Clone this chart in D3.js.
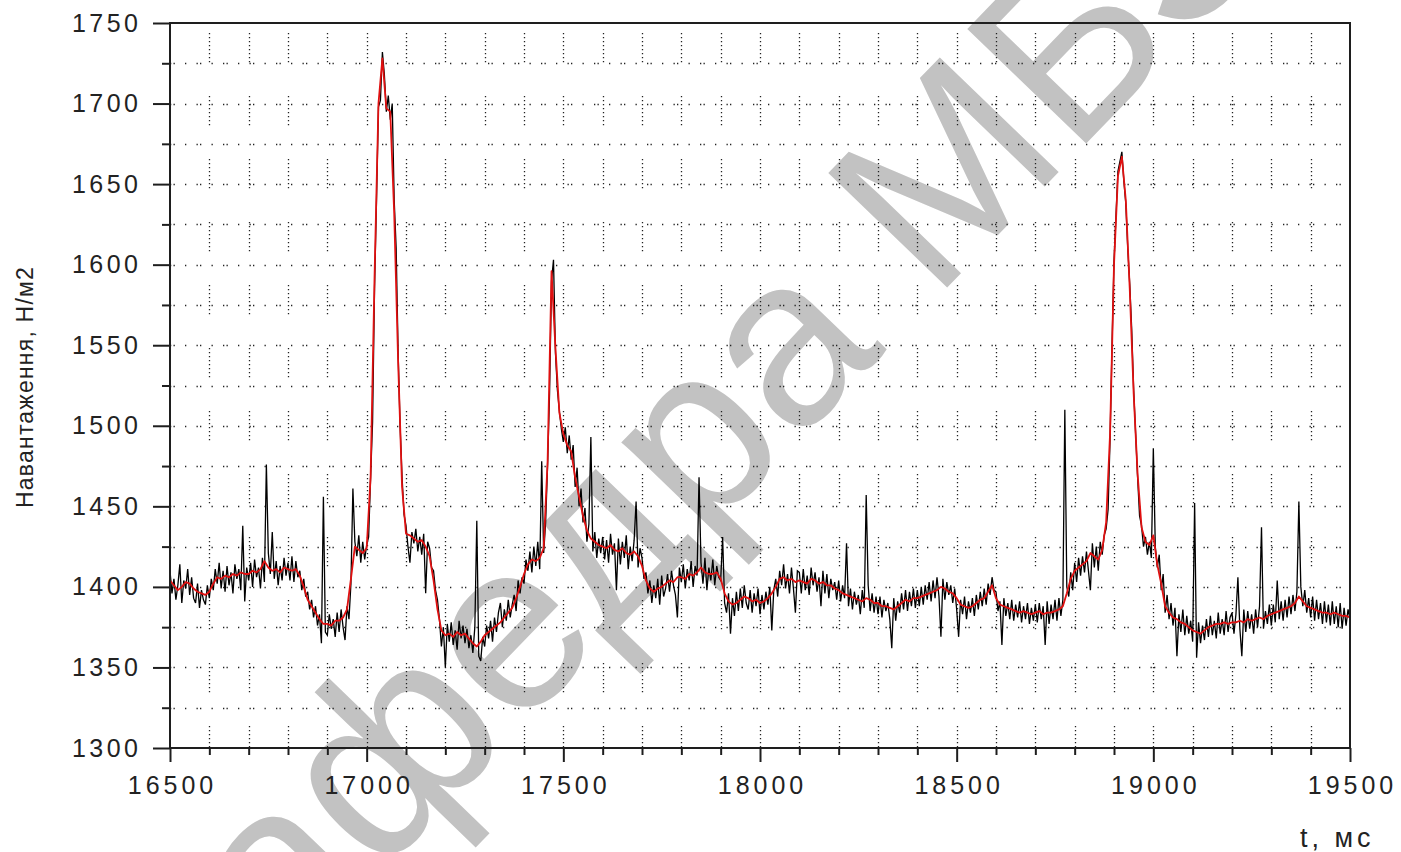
<!DOCTYPE html>
<html>
<head>
<meta charset="utf-8">
<script src="https://cdn.jsdelivr.net/npm/d3@7"></script>
<style>
  html, body { margin: 0; padding: 0; background: #fff; }
  svg { display: block; }
  text { font-family: "Liberation Sans", Arial, sans-serif; }
</style>
</head>
<body>
<svg id="chart" width="1401" height="852"></svg>
<script>
// Load record: raw sensor trace (5 ms sampling) and its smoothed curve (10 ms sampling)
const tStart = 16500;
const rawStep = 5;
const smoothStep = 10;

const rawLoad = [
  1410,1396,1405,1392,1401,1414,1390,1404,1399,1411,1395,1406,1393,1390,1402,1387,1398,1392,1389,1401,
  1393,1405,1398,1411,1402,1415,1399,1410,1397,1413,1401,1409,1396,1414,1405,1411,1398,1438,1391,1412,
  1404,1415,1400,1417,1406,1412,1399,1418,1403,1476,1421,1408,1434,1405,1416,1401,1413,1404,1418,1407,
  1415,1404,1419,1403,1416,1406,1410,1398,1405,1394,1397,1386,1392,1381,1388,1376,1383,1365,1456,1372,
  1370,1383,1374,1380,1369,1384,1372,1386,1375,1367,1388,1380,1402,1461,1428,1419,1432,1415,1428,1417,
  1426,1431,1468,1502,1585,1640,1698,1702,1732,1718,1695,1705,1690,1700,1640,1610,1545,1500,1468,1445,
  1438,1425,1415,1434,1427,1436,1422,1431,1420,1433,1396,1428,1424,1412,1410,1398,1392,1380,1363,1375,
  1350,1377,1366,1378,1364,1373,1361,1379,1368,1376,1365,1374,1362,1370,1359,1375,1441,1357,1354,1369,
  1363,1376,1368,1379,1366,1381,1372,1384,1390,1375,1386,1379,1392,1381,1389,1395,1385,1404,1396,1406,
  1402,1417,1410,1422,1409,1425,1413,1428,1411,1478,1421,1440,1476,1520,1590,1603,1545,1522,1509,1498,
  1490,1499,1483,1494,1479,1488,1462,1474,1450,1461,1440,1449,1428,1439,1493,1422,1434,1418,1430,1421,
  1431,1417,1429,1415,1433,1420,1427,1398,1430,1414,1428,1418,1432,1411,1425,1416,1429,1453,1412,1424,
  1418,1405,1409,1396,1404,1390,1401,1393,1405,1389,1407,1394,1399,1408,1397,1410,1401,1395,1381,1412,
  1403,1414,1399,1411,1404,1416,1400,1413,1407,1468,1415,1402,1418,1398,1412,1404,1417,1401,1413,1406,
  1404,1431,1390,1384,1396,1371,1393,1382,1397,1385,1399,1387,1401,1390,1386,1398,1384,1396,1388,1399,
  1383,1395,1386,1397,1389,1400,1373,1398,1405,1394,1410,1401,1414,1399,1408,1396,1412,1399,1384,1410,
  1409,1396,1411,1398,1407,1395,1412,1401,1409,1397,1406,1388,1410,1396,1408,1393,1405,1398,1403,1392,
  1404,1391,1401,1393,1427,1388,1399,1386,1397,1389,1395,1383,1398,1387,1457,1401,1385,1396,1384,1394,
  1383,1394,1381,1392,1385,1390,1380,1362,1393,1379,1391,1384,1396,1386,1398,1385,1397,1388,1399,1387,
  1398,1388,1400,1389,1401,1392,1403,1391,1404,1393,1406,1394,1369,1405,1392,1403,1395,1401,1390,1399,
  1386,1369,1392,1383,1394,1380,1391,1384,1393,1382,1395,1386,1397,1388,1399,1389,1402,1395,1406,1398,
  1397,1385,1391,1364,1393,1382,1390,1380,1392,1379,1389,1381,1391,1378,1388,1380,1390,1377,1387,1379,
  1389,1378,1390,1380,1388,1364,1391,1377,1389,1380,1392,1379,1393,1382,1392,1510,1400,1394,1409,1398,
  1415,1403,1418,1407,1419,1409,1422,1410,1398,1427,1412,1425,1410,1428,1420,1432,1436,1448,1492,1550,
  1602,1630,1658,1664,1670,1652,1638,1610,1588,1560,1522,1495,1468,1444,1438,1425,1431,1420,1428,1418,
  1486,1425,1412,1420,1398,1408,1384,1395,1380,1390,1376,1387,1357,1383,1372,1386,1370,1382,1371,1379,
  1366,1452,1356,1378,1365,1376,1367,1380,1369,1382,1370,1379,1368,1384,1371,1380,1370,1385,1372,1381,
  1384,1371,1383,1406,1374,1357,1386,1372,1385,1374,1383,1371,1386,1375,1388,1437,1374,1385,1377,1389,
  1376,1389,1378,1404,1380,1391,1379,1392,1381,1394,1383,1395,1385,1397,1453,1400,1388,1398,1384,1393,
  1381,1394,1379,1392,1380,1390,1377,1391,1378,1389,1376,1391,1377,1388,1375,1390,1374,1387,1376,1386,
  1380
];

const smoothLoad = [
  1404,1401,1398,1400,1403,1402,1399,1397,1396,1395,
  1397,1402,1406,1405,1407,1406,1408,1407,1409,1408,
  1408,1410,1409,1411,1416,1412,1410,1411,1409,1412,
  1411,1410,1411,1407,1400,1392,1388,1384,1380,1377,
  1377,1376,1379,1379,1381,1386,1405,1425,1423,1421,
  1424,1468,1592,1700,1728,1697,1695,1632,1540,1462,
  1433,1432,1430,1428,1429,1425,1419,1404,1386,1373,
  1370,1371,1369,1372,1370,1371,1368,1365,1363,1366,
  1370,1372,1374,1376,1378,1381,1384,1387,1393,1400,
  1408,1414,1417,1416,1418,1424,1478,1596,1548,1508,
  1495,1488,1484,1468,1456,1444,1435,1430,1428,1426,
  1425,1424,1426,1423,1422,1424,1421,1420,1422,1419,
  1413,1404,1399,1397,1399,1400,1402,1404,1403,1406,
  1406,1405,1408,1407,1409,1412,1409,1408,1408,1409,
  1405,1396,1391,1389,1390,1392,1394,1393,1391,1392,
  1390,1391,1393,1396,1400,1405,1406,1404,1405,1403,
  1404,1403,1402,1405,1404,1402,1403,1401,1401,1399,
  1398,1396,1395,1394,1393,1392,1391,1393,1392,1390,
  1390,1388,1388,1387,1386,1388,1390,1392,1391,1393,
  1393,1394,1395,1396,1397,1398,1400,1399,1397,1396,
  1393,1389,1388,1387,1388,1390,1392,1393,1397,1401,
  1393,1389,1388,1387,1386,1385,1384,1385,1384,1383,
  1384,1385,1383,1384,1384,1385,1386,1388,1396,1405,
  1410,1412,1414,1416,1421,1419,1417,1423,1440,1495,
  1600,1655,1667,1640,1585,1520,1470,1437,1428,1426,
  1432,1414,1402,1388,1384,1381,1380,1378,1377,1375,
  1373,1372,1371,1373,1375,1376,1377,1377,1378,1377,
  1378,1378,1379,1378,1380,1379,1380,1381,1380,1382,
  1383,1384,1385,1386,1387,1388,1390,1394,1391,1388,
  1387,1386,1385,1384,1384,1383,1384,1383,1382,1382,
  1381
];

const xTickLabels = [16500, 17000, 17500, 18000, 18500, 19000, 19500];
const yTickLabels = [1300, 1350, 1400, 1450, 1500, 1550, 1600, 1650, 1700, 1750];
const yLabelText = "Навантаження, Н/м2";
const xLabelText = "t, мс";
const stampText = "кафедра МБЗ";

const W = 1401, H = 852;
const plot = { left: 170, right: 1350, top: 23, bottom: 748 };

const x = d3.scaleLinear().domain([16500, 19500]).range([plot.left, plot.right]);
const y = d3.scaleLinear().domain([1300, 1750]).range([plot.bottom, plot.top]);

const svg = d3.select("#chart");
svg.append("rect").attr("width", W).attr("height", H).attr("fill", "#fff");

// Department stamp lying under the whole figure
svg.append("text")
  .attr("transform", "translate(209,1052) rotate(-46)")
  .attr("font-size", 240)
  .attr("fill", "#c2c2c2")
  .text(stampText);

// Dotted grid
const grid = svg.append("g").attr("class", "grid");
const hGrid = d3.range(1325, 1750, 25);
const vGrid = d3.range(16600, 19500, 100);

grid.selectAll("line.h").data(hGrid).join("line")
  .attr("class", "h")
  .attr("x1", plot.left).attr("x2", plot.right)
  .attr("y1", d => Math.round(y(d)) + 0.5).attr("y2", d => Math.round(y(d)) + 0.5)
  .attr("stroke", "#222").attr("stroke-width", 1.3)
  .attr("stroke-dasharray", "1.3,2.2,1.3,10.2,1.3,10.2");

grid.selectAll("line.v").data(vGrid).join("line")
  .attr("class", "v")
  .attr("x1", d => Math.round(x(d)) + 0.5).attr("x2", d => Math.round(x(d)) + 0.5)
  .attr("y1", plot.top).attr("y2", plot.bottom)
  .attr("stroke", "#222").attr("stroke-width", 1.3)
  .attr("stroke-dasharray", "1.3,2.7,1.3,2.7,1.3,2.7,1.3,2.7,1.3,2.7,1.3,2.7,1.3,2.7,1.3,33.7")
  .attr("stroke-dashoffset", 53);

// Signal traces
svg.append("clipPath").attr("id", "plotClip")
  .append("rect")
  .attr("x", plot.left).attr("y", plot.top)
  .attr("width", plot.right - plot.left).attr("height", plot.bottom - plot.top);

const rawLine = d3.line()
  .x((d, i) => x(tStart + i * rawStep))
  .y(d => y(d));
const smoothLine = d3.line()
  .x((d, i) => x(tStart + i * smoothStep))
  .y(d => y(d));

const traces = svg.append("g").attr("clip-path", "url(#plotClip)");
traces.append("path").datum(rawLoad)
  .attr("d", rawLine)
  .attr("fill", "none").attr("stroke", "#000").attr("stroke-width", 1.3);
traces.append("path").datum(smoothLoad)
  .attr("d", smoothLine)
  .attr("fill", "none").attr("stroke", "#e01010").attr("stroke-width", 1.8)
  .attr("stroke-linejoin", "round");

// Axes
const axisColor = "#1e1e1e";
const fmt = d3.format("d");

const yMajor = d3.axisLeft(y).tickValues(yTickLabels).tickSize(17).tickPadding(11.5)
  .tickFormat(fmt).tickSizeOuter(0);
const yMinor = d3.axisLeft(y).tickValues(d3.range(1325, 1750, 50)).tickSize(8)
  .tickFormat("").tickSizeOuter(0);
const xMajor = d3.axisBottom(x).tickValues(xTickLabels).tickSize(14).tickPadding(14)
  .tickFormat(fmt).tickSizeOuter(0);
const xMinor = d3.axisBottom(x).tickValues(d3.range(16600, 19500, 100).filter(v => v % 500 !== 0))
  .tickSize(7).tickFormat("").tickSizeOuter(0);

function styleAxis(g) {
  g.select(".domain").remove();
  g.selectAll(".tick line").attr("stroke", axisColor).attr("stroke-width", 2);
  g.selectAll(".tick text")
    .attr("fill", "#222")
    .attr("font-size", 25)
    .attr("font-family", "\"Liberation Sans\", Arial, sans-serif");
}

svg.append("g").attr("transform", `translate(${plot.left},0)`).call(yMinor).call(styleAxis);
svg.append("g").attr("transform", `translate(${plot.left},0)`).call(yMajor).call(styleAxis)
  .selectAll(".tick text").attr("letter-spacing", 3.5);
svg.append("g").attr("transform", `translate(0,${plot.bottom})`).call(xMinor).call(styleAxis);
svg.append("g").attr("transform", `translate(0,${plot.bottom})`).call(xMajor).call(styleAxis)
  .selectAll(".tick text").attr("letter-spacing", 4).attr("dx", 2);

// Frame
svg.append("rect")
  .attr("x", plot.left).attr("y", plot.top)
  .attr("width", plot.right - plot.left).attr("height", plot.bottom - plot.top)
  .attr("fill", "none").attr("stroke", axisColor).attr("stroke-width", 2);

// Axis titles
svg.append("text")
  .attr("transform", "translate(33,387) rotate(-90)")
  .attr("text-anchor", "middle")
  .attr("font-size", 23)
  .attr("letter-spacing", 1.2)
  .attr("fill", "#222")
  .text(yLabelText);

svg.append("text")
  .attr("x", 1300).attr("y", 847)
  .attr("font-size", 27)
  .attr("letter-spacing", 4)
  .attr("fill", "#222")
  .text(xLabelText);
</script>
</body>
</html>
